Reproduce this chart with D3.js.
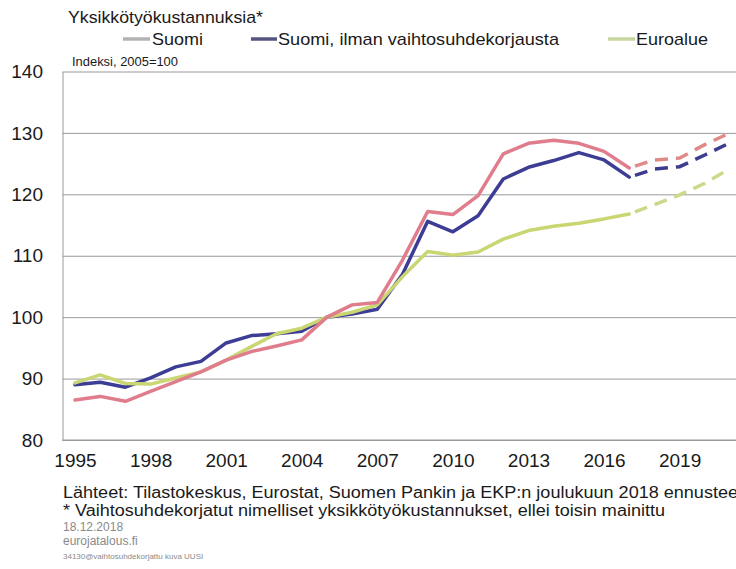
<!DOCTYPE html>
<html><head><meta charset="utf-8">
<script src="https://cdn.jsdelivr.net/npm/d3@7"></script>
<style>
html,body{margin:0;padding:0;background:#fff;}
svg{display:block;font-family:"Liberation Sans",Arial,sans-serif;}
</style></head>
<body><svg id="c" width="736" height="569"></svg>
<script>
const years = d3.range(1995, 2022);
const suomi = [86.5,87.1,86.3,87.9,89.5,91.1,93.0,94.4,95.3,96.3,100.0,102.0,102.4,109.3,117.2,116.7,119.8,126.6,128.3,128.8,128.3,127.0,124.3,125.6,125.9,128.1,130.0];
const suomiIlman = [89.0,89.4,88.6,90.1,91.9,92.8,95.8,97.0,97.3,97.7,100.0,100.5,101.3,107.0,115.6,113.9,116.5,122.5,124.4,125.5,126.8,125.6,122.8,124.1,124.5,126.4,128.4];
const euroalue = [89.3,90.6,89.2,89.1,90.1,91.1,93.0,95.2,97.3,98.2,100.0,100.8,102.0,106.6,110.7,110.1,110.6,112.7,114.1,114.8,115.3,116.0,116.8,118.3,119.9,121.8,124.2];
const forecastStart = 2017;
const yTicks = [80,90,100,110,120,130,140];
const xTicks = [1995,1998,2001,2004,2007,2010,2013,2016,2019];
const seriesNames = ["Suomi","Suomi, ilman vaihtosuhdekorjausta","Euroalue"];
const title = "Yksikkötyökustannuksia*";
const subtitle = "Indeksi, 2005=100";
const footer1 = "Lähteet: Tilastokeskus, Eurostat, Suomen Pankin ja EKP:n joulukuun 2018 ennusteet";
const footer2 = "* Vaihtosuhdekorjatut nimelliset yksikkötyökustannukset, ellei toisin mainittu";
const footer3 = "18.12.2018";
const footer4 = "eurojatalous.fi";
const footer5 = "34130@vaihtosuhdekorjattu kuva UUSI";

const svg = d3.select("#c");
const L = 62.5, R = 736, T = 71.5, B = 440;
const x = d3.scalePoint().domain(years).range([75, 730]);
const y = d3.scaleLinear().domain([80,140]).range([B, T]);

// y axis with gridlines
const ya = svg.append("g").attr("transform", `translate(${L},0)`)
  .call(d3.axisLeft(y).tickValues(yTicks).tickSizeInner(-(R-L)).tickSizeOuter(0).tickPadding(19.5).tickFormat(d3.format("d")));
ya.select(".domain").attr("stroke","#9a9a9a");
ya.selectAll(".tick line").attr("stroke","#9a9a9a");
ya.selectAll(".tick text").attr("font-size","19px").attr("fill","#1a1a1a").attr("font-family","Liberation Sans, Arial, sans-serif");

// x axis
const xa = svg.append("g").attr("transform", `translate(0,${B})`)
  .call(d3.axisBottom(x).tickValues(xTicks).tickSize(0).tickPadding(14));
xa.select(".domain").attr("stroke","#9a9a9a").attr("d", `M${L},0H${R}`);
xa.selectAll(".tick text").attr("font-size","19px").attr("fill","#1a1a1a").attr("font-family","Liberation Sans, Arial, sans-serif");

const line = d3.line().x(d => x(d.year)).y(d => y(d.v));
function draw(vals, color, fcColor) {
  const pts = years.map((yr,i)=>({year:yr, v:vals[i]}));
  svg.append("path").datum(pts.filter(d=>d.year<=forecastStart))
    .attr("d", line).attr("fill","none").attr("stroke",color).attr("stroke-width",3.5)
    .attr("stroke-linejoin","round").attr("stroke-linecap","round");
  svg.append("path").datum(pts.filter(d=>d.year>=forecastStart))
    .attr("d", line).attr("fill","none").attr("stroke",fcColor).attr("stroke-width",3.5)
    .attr("stroke-dasharray","13,8").attr("stroke-dashoffset",-6);
}
draw(suomiIlman, "#3d3d95", "#3d3d90");
draw(euroalue, "#c9d672", "#cbd98a");
draw(suomi, "#e07d8c", "#e08a88");

// title & legend
svg.append("text").attr("x",68).attr("y",22.5).attr("font-size","17px").attr("fill","#1a1a1a")
  .attr("textLength",195).attr("lengthAdjust","spacingAndGlyphs").text(title);
const leg = [
  {name:seriesNames[0], sx:123, ex:150, tx:152, tw:51, c:"#b3b3b3"},
  {name:seriesNames[1], sx:251, ex:277, tx:278, tw:281, c:"#55557f"},
  {name:seriesNames[2], sx:608, ex:635, tx:636, tw:72, c:"#c6d6a0"}
];
leg.forEach(l=>{
  svg.append("line").attr("x1",l.sx).attr("x2",l.ex).attr("y1",39).attr("y2",39)
    .attr("stroke",l.c).attr("stroke-width",3.5);
  svg.append("text").attr("x",l.tx).attr("y",44.5).attr("font-size","17px").attr("fill","#1a1a1a")
    .attr("textLength",l.tw).attr("lengthAdjust","spacingAndGlyphs").text(l.name);
});
svg.append("text").attr("x",72).attr("y",65.5).attr("font-size","12.5px").attr("fill","#1a1a1a")
  .attr("textLength",106).attr("lengthAdjust","spacingAndGlyphs").text(subtitle);

// footer
svg.append("text").attr("x",63).attr("y",498).attr("font-size","16px").attr("fill","#1a1a1a")
  .attr("textLength",680).attr("lengthAdjust","spacingAndGlyphs").text(footer1);
svg.append("text").attr("x",63).attr("y",515.5).attr("font-size","16px").attr("fill","#1a1a1a")
  .attr("textLength",602).attr("lengthAdjust","spacingAndGlyphs").text(footer2);
svg.append("text").attr("x",63).attr("y",530.5).attr("font-size","12px").attr("fill","#8a8a8a").text(footer3);
svg.append("text").attr("x",63).attr("y",545).attr("font-size","12px").attr("fill","#8a8a8a").text(footer4);
svg.append("text").attr("x",63).attr("y",559).attr("font-size","8px").attr("fill","#8a8a8a").text(footer5);
</script></body></html>
